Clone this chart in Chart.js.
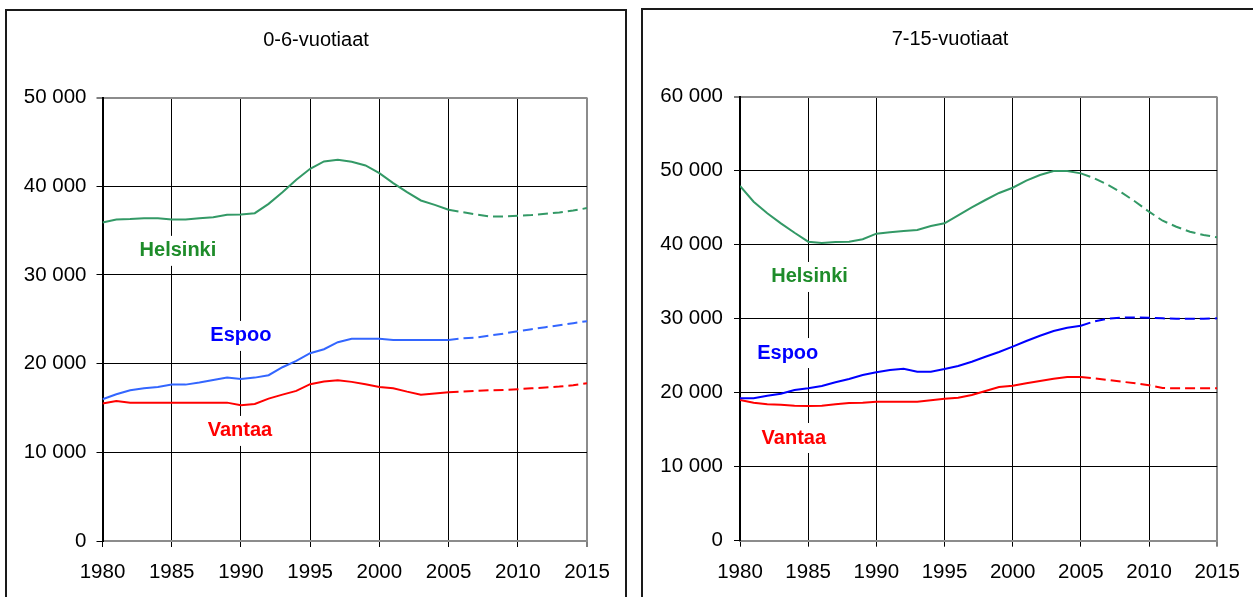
<!DOCTYPE html>
<html>
<head>
<meta charset="utf-8">
<script src="https://cdn.jsdelivr.net/npm/chart.js@4"></script>
<style>
  html, body { margin: 0; padding: 0; background: #fff; width: 1253px; height: 597px; overflow: hidden; }
  .panel { position: absolute; box-sizing: border-box; border: 2px solid #1a1a1a; }
  canvas { position: absolute; }
</style>
</head>
<body>
<div class="panel" style="left:5px; top:9px; width:622px; height:700px;"></div>
<div class="panel" style="left:641px; top:8px; width:700px; height:700px;"></div>
<canvas id="c1" width="616" height="585" style="left:8px; top:12px;"></canvas>
<canvas id="c2" width="609" height="587" style="left:644px; top:10px;"></canvas>
<script>
// ---- data ----
const years = [1980,1981,1982,1983,1984,1985,1986,1987,1988,1989,1990,1991,1992,1993,1994,1995,1996,1997,1998,1999,2000,2001,2002,2003,2004,2005,2006,2007,2008,2009,2010,2011,2012,2013,2014,2015];
const xTicks = [1980,1985,1990,1995,2000,2005,2010,2015];

// 0-6-vuotiaat
const helsinki06 = [35900,36240,36290,36400,36400,36240,36240,36400,36510,36770,36810,36960,38010,39330,40720,41960,42790,42980,42750,42340,41480,40350,39330,38390,37900,37340,37080,36810,36580,36580,36660,36740,36890,37040,37260,37530];
const espoo06    = [15980,16550,17000,17220,17370,17630,17630,17860,18160,18420,18270,18420,18690,19590,20300,21170,21620,22410,22790,22790,22790,22670,22670,22670,22670,22670,22850,22940,23160,23390,23650,23880,24110,24330,24560,24780];
const vantaa06   = [15490,15790,15600,15600,15600,15600,15600,15600,15600,15600,15310,15450,16050,16500,16920,17680,17970,18120,17940,17680,17370,17220,16840,16500,16620,16770,16840,16920,17000,17030,17110,17220,17300,17410,17560,17790];

// 7-15-vuotiaat
const helsinki715 = [47930,45810,44240,42890,41620,40410,40230,40360,40410,40730,41490,41670,41850,41990,42530,42890,43970,45050,46040,46990,47700,48650,49420,49960,49960,49640,48970,48070,47030,45810,44460,43240,42430,41760,41310,41000];
const espoo715    = [19240,19260,19590,19860,20360,20590,20900,21400,21850,22390,22750,23070,23240,22840,22840,23200,23610,24190,24860,25500,26220,26990,27700,28340,28780,29050,29650,30000,30140,30180,30140,30050,30000,30000,30000,30050];
const vantaa715   = [19010,18650,18430,18380,18240,18200,18240,18430,18610,18650,18790,18790,18790,18790,18970,19190,19320,19690,20230,20770,20950,21270,21580,21890,22120,22120,21950,21720,21490,21270,21000,20640,20590,20590,20590,20590];

const projectionStart = 2005;
const titles = ['0-6-vuotiaat', '7-15-vuotiaat'];
const seriesNames = ['Helsinki', 'Espoo', 'Vantaa'];

// ---- rendering ----
const FONT = "'Liberation Sans', Arial, Helvetica, sans-serif";
Chart.defaults.font.family = FONT;
Chart.defaults.font.size = 20.5;
Chart.defaults.color = '#000';

const fmtThousands = v => String(v).replace(/\B(?=(\d{3})+(?!\d))/g, ' ');
const toPoints = vals => years.map((y, i) => ({ x: y, y: vals[i] }));

const overlay = {
  id: 'overlay',
  beforeDatasetsDraw(chart, args, opts) {
    const ctx = chart.ctx, xs = chart.scales.x, ys = chart.scales.y;
    ctx.save();
    ctx.textAlign = 'center';
    ctx.textBaseline = 'middle';
    ctx.font = 'bold 20px ' + FONT;
    for (const l of opts.items) {
      const px = xs.getPixelForValue(l.x), py = ys.getPixelForValue(l.y);
      const w = ctx.measureText(l.text).width;
      ctx.fillStyle = '#fff';
      ctx.fillRect(px - w / 2 - 4, py - 15, w + 8, 30);
      ctx.fillStyle = l.color;
      ctx.fillText(l.text, px, py);
    }
    ctx.font = '20px ' + FONT;
    ctx.fillStyle = '#000';
    ctx.fillText(opts.title, opts.titleX, opts.titleY);
    ctx.restore();
  }
};

function dataset(label, vals, color) {
  return {
    label, data: toPoints(vals), borderColor: color, borderWidth: 2,
    pointRadius: 0, tension: 0, fill: false,
    segment: { borderDash: c => c.p0.parsed.x >= projectionStart ? [10, 5] : undefined }
  };
}

function makeChart(id, cfg) {
  return new Chart(document.getElementById(id), {
    type: 'line',
    data: { datasets: cfg.datasets },
    plugins: [overlay],
    options: {
      responsive: false, animation: false,
      layout: { padding: cfg.padding },
      plugins: {
        legend: { display: false }, tooltip: { enabled: false }, title: { display: false },
        overlay: { items: cfg.labels, title: cfg.title, titleX: cfg.titleX, titleY: cfg.titleY }
      },
      scales: {
        x: {
          type: 'linear', min: 1980, max: 2015,
          afterBuildTicks: s => { s.ticks = xTicks.map(v => ({ value: v })); },
          afterFit: s => { s.height = cfg.xHeight; },
          ticks: { callback: v => String(v), padding: 13, maxRotation: 0, autoSkip: false },
          grid: {
            color: c => (c.tick && c.tick.value === 2015) ? '#8c8c8c' : '#000',
            lineWidth: c => (c.tick && c.tick.value === 2015) ? 2 : 1,
            tickColor: '#000', tickLength: 6, tickWidth: 1
          },
          border: { color: '#8c8c8c', width: 2 }
        },
        y: {
          min: 0, max: cfg.yMax,
          afterFit: s => { s.width = cfg.yWidth; },
          ticks: { stepSize: 10000, callback: v => fmtThousands(v), padding: cfg.yPad },
          grid: {
            color: c => (c.tick && c.tick.value === cfg.yMax) ? '#8c8c8c' : '#000',
            lineWidth: c => (c.tick && c.tick.value === cfg.yMax) ? 2 : 1,
            tickColor: '#000', tickLength: 6, tickWidth: 1
          },
          border: { color: '#000', width: 2 }
        }
      }
    }
  });
}

makeChart('c1', {
  datasets: [
    dataset(seriesNames[0], helsinki06, '#339966'),
    dataset(seriesNames[1], espoo06, '#3366FF'),
    dataset(seriesNames[2], vantaa06, '#FF0000')
  ],
  labels: [
    { text: seriesNames[0], x: 1985.45, y: 32710, color: '#1E8C2A' },
    { text: seriesNames[1], x: 1990.0, y: 23120, color: '#0000FF' },
    { text: seriesNames[2], x: 1989.93, y: 12410, color: '#FF0000' }
  ],
  title: titles[0], titleX: 308, titleY: 28.5,
  padding: { left: 0, top: 85.5, right: 37, bottom: 0 },
  xHeight: 56, yWidth: 94.5, yPad: 10, yMax: 50000
});

makeChart('c2', {
  datasets: [
    dataset(seriesNames[0], helsinki715, '#339966'),
    dataset(seriesNames[1], espoo715, '#0000FF'),
    dataset(seriesNames[2], vantaa715, '#FF0000')
  ],
  labels: [
    { text: seriesNames[0], x: 1985.1, y: 35640, color: '#1E8C2A' },
    { text: seriesNames[1], x: 1983.5, y: 25360, color: '#0000FF' },
    { text: seriesNames[2], x: 1983.95, y: 13880, color: '#FF0000' }
  ],
  title: titles[1], titleX: 306, titleY: 29.5,
  padding: { left: 0, top: 86.7, right: 35.7, bottom: 0 },
  xHeight: 56.3, yWidth: 96, yPad: 11, yMax: 60000
});
</script>
</body>
</html>
